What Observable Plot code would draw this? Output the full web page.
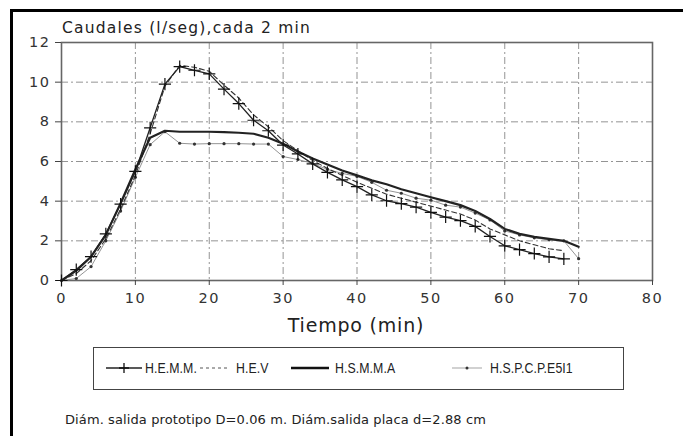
<!DOCTYPE html>
<html><head><meta charset="utf-8">
<script src="https://cdn.jsdelivr.net/npm/d3@7"></script>
<script src="https://cdn.jsdelivr.net/npm/@observablehq/plot@0.6"></script>
<style>
body{margin:0;background:#fff;font-family:"DejaVu Sans",sans-serif;}
#wrap{position:relative;width:683px;height:436px;overflow:hidden;background:#fff;}
#frame{position:absolute;left:10px;top:9px;width:720px;height:500px;border-left:3px solid #000;border-top:3px solid #000;}
#title{position:absolute;left:62px;top:19px;font-size:15.5px;letter-spacing:1.2px;color:#222;white-space:nowrap;}
#chart{position:absolute;left:0;top:0;}
#chart svg g[aria-label="y-axis tick label"] text,
#chart svg g[aria-label="x-axis tick label"] text{letter-spacing:1.5px;}
#xlabel{position:absolute;left:236px;width:240px;text-align:center;top:314px;font-size:19px;letter-spacing:0.8px;color:#222;}
#legend{position:absolute;left:93px;top:347px;width:531px;height:43px;border:1.5px solid #444;box-sizing:border-box;font-family:"Liberation Sans",sans-serif;font-size:15px;color:#222;}
#legend .smp{position:absolute;top:13px;}
#legend .txt{position:absolute;top:11px;white-space:nowrap;letter-spacing:0.1px;transform:scaleX(0.82);transform-origin:0 50%;}
#caption{position:absolute;left:65px;top:412px;font-size:13px;letter-spacing:0.1px;color:#222;white-space:nowrap;}
</style></head>
<body>
<div id="wrap">
  <div id="frame"></div>
  <div id="chart"></div>
  <div id="title"></div>
  <div id="xlabel"></div>
  <div id="legend"></div>
  <div id="caption"></div>
</div>
<script>
const titleText = "Caudales (l/seg),cada 2 min";
const xLabel = "Tiempo (min)";
const captionText = "Diám. salida prototipo D=0.06 m. Diám.salida placa d=2.88 cm";
const seriesNames = ["H.E.M.M.", "H.E.V", "H.S.M.M.A", "H.S.P.C.P.E5I1"];
const xTicks = [0,10,20,30,40,50,60,70,80];
const yTicks = [0,2,4,6,8,10,12];

const timesA = [0,2,4,6,8,10,12,14,16,18,20,22,24,26,28,30,32,34,36,38,40,42,44,46,48,50,52,54,56,58,60,62,64,66,68];
const timesB = [0,2,4,6,8,10,12,14,16,18,20,22,24,26,28,30,32,34,36,38,40,42,44,46,48,50,52,54,56,58,60,62,64,66,68,70];

const hemm = [0,0.55,1.2,2.35,3.85,5.5,7.7,9.9,10.78,10.6,10.42,9.65,8.92,8.08,7.55,6.83,6.38,5.88,5.45,5.07,4.73,4.32,4.02,3.88,3.7,3.43,3.2,3.02,2.73,2.22,1.75,1.56,1.36,1.19,1.09];
const hev = [0,0.35,1.0,2.1,3.6,5.3,7.4,9.8,10.85,10.75,10.55,9.85,9.2,8.35,7.75,7.05,6.55,6.05,5.65,5.3,4.95,4.65,4.35,4.15,3.95,3.75,3.55,3.35,3.05,2.6,2.3,2.0,1.8,1.6,1.5];
const hsmma = [0,0.5,1.2,2.3,3.9,5.6,7.2,7.55,7.5,7.5,7.5,7.48,7.45,7.4,7.2,6.9,6.5,6.15,5.85,5.55,5.3,5.05,4.85,4.6,4.4,4.2,4.0,3.8,3.5,3.1,2.6,2.35,2.2,2.1,2.0,1.7];
const hspcp = [0,0.1,0.7,2.0,3.5,5.2,6.85,7.5,6.92,6.88,6.9,6.9,6.9,6.88,6.88,6.25,6.1,5.9,5.6,5.4,5.25,4.95,4.55,4.4,4.15,4.05,3.8,3.7,3.4,3.05,2.5,2.3,2.15,2.05,2.0,1.1];

const toRows = (ts, vs) => ts.map((t,i) => ({t, v: vs[i]}));
const dHemm = toRows(timesA, hemm);
const dHev = toRows(timesA, hev);
const dHsmma = toRows(timesB, hsmma);
const dHspcp = toRows(timesB, hspcp);

const font = "'DejaVu Sans', sans-serif";
const chart = Plot.plot({
  width: 683,
  height: 330,
  marginLeft: 61,
  marginRight: 31,
  marginTop: 42,
  marginBottom: 50,
  x: {domain: [0,80], label: null},
  y: {domain: [0,12], label: null},
  style: {fontFamily: font, fontSize: "14.5px", color: "#333", background: "transparent", overflow: "visible"},
  marks: [
    Plot.gridY(yTicks.slice(1, -1), {stroke: "#888", strokeOpacity: 0.9, strokeDasharray: "7,3,2,3"}),
    Plot.gridX(xTicks.slice(1, -1), {stroke: "#888", strokeOpacity: 0.9, strokeDasharray: "7,3,2,3"}),
    Plot.frame({stroke: "#666", strokeWidth: 1.6}),
    Plot.axisX(xTicks, {tickSize: 5, tickPadding: 7, fontSize: 14.5, stroke: "#444", label: null}),
    Plot.axisY(yTicks, {tickSize: 6, tickPadding: 5, fontSize: 14.5, stroke: "#444", label: null}),
    Plot.line(dHspcp, {x: "t", y: "v", stroke: "#888", strokeWidth: 0.9}),
    Plot.dot(dHspcp, {x: "t", y: "v", r: 1.6, fill: "#333"}),
    Plot.line(dHev, {x: "t", y: "v", stroke: "#333", strokeWidth: 1.1, strokeDasharray: "5,3"}),
    Plot.line(dHsmma, {x: "t", y: "v", stroke: "#222", strokeWidth: 2.2}),
    Plot.line(dHemm, {x: "t", y: "v", stroke: "#222", strokeWidth: 1.3}),
    Plot.dot(dHemm, {x: "t", y: "v", symbol: "plus", r: 4, stroke: "#111", strokeWidth: 1.2})
  ]
});
document.getElementById("chart").appendChild(chart);
document.getElementById("title").textContent = titleText;
document.getElementById("xlabel").textContent = xLabel;
document.getElementById("caption").textContent = captionText;

// legend
const legendItems = [
  {s: 11, t: 51, svg: '<svg width="38" height="14"><line x1="1" y1="7" x2="37" y2="7" stroke="#222" stroke-width="1.3"/><path d="M19 2V12M14 7H24" stroke="#111" stroke-width="1.3"/></svg>'},
  {s: 104, t: 142, svg: '<svg width="32" height="14"><line x1="2" y1="7" x2="30" y2="7" stroke="#555" stroke-width="1" stroke-dasharray="3,3"/></svg>'},
  {s: 196, t: 241, svg: '<svg width="40" height="14"><line x1="1" y1="7" x2="39" y2="7" stroke="#111" stroke-width="2.4"/></svg>'},
  {s: 356, t: 396, svg: '<svg width="34" height="14"><line x1="2" y1="7" x2="32" y2="7" stroke="#999" stroke-width="0.9"/><circle cx="17" cy="7" r="1.5" fill="#333"/></svg>'}
];
const lg = document.getElementById("legend");
seriesNames.forEach((name, i) => {
  const s = document.createElement("div");
  s.className = "smp";
  s.style.left = legendItems[i].s + "px";
  s.innerHTML = legendItems[i].svg;
  lg.appendChild(s);
  const t = document.createElement("div");
  t.className = "txt";
  t.style.left = legendItems[i].t + "px";
  t.textContent = name;
  lg.appendChild(t);
});
</script>
</body></html>
